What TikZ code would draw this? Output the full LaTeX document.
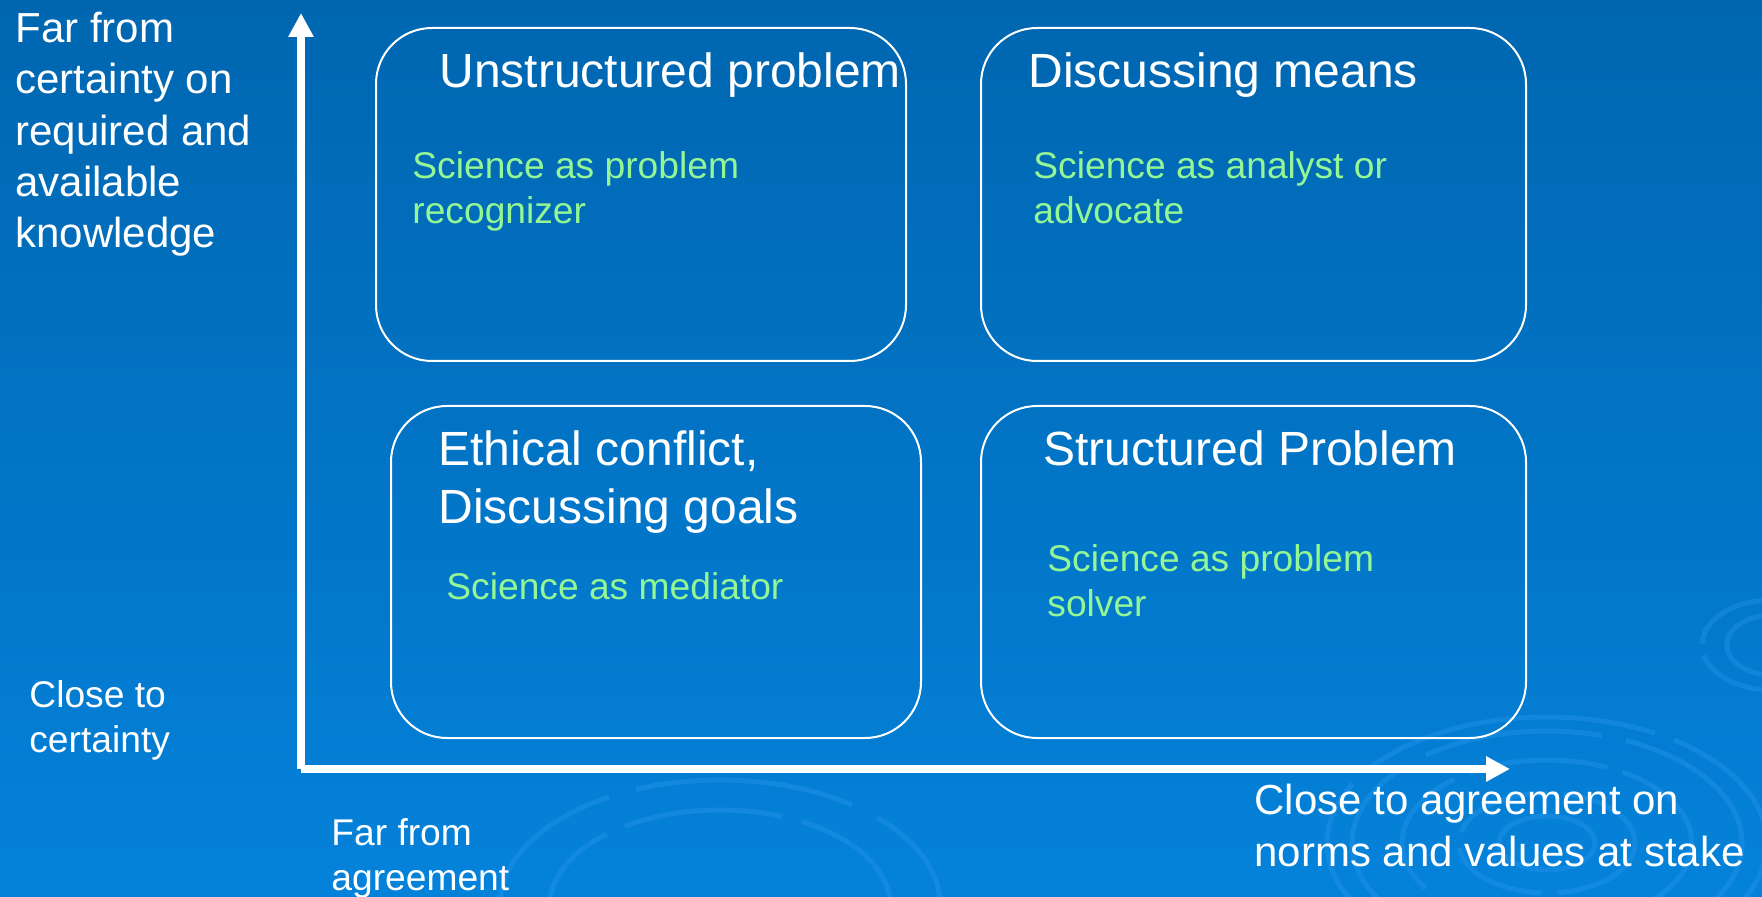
\documentclass[tikz,border=0pt]{standalone}
\usepackage{fontspec}
\setmainfont{Liberation Sans}
\usepackage{tikz}
\usetikzlibrary{arrows.meta,positioning}
\definecolor{bgtop}{RGB}{0,102,176}
\definecolor{bgbottom}{RGB}{4,130,218}
\definecolor{rolegreen}{RGB}{148,246,148}
\definecolor{swirl}{RGB}{40,150,236}
\tikzset{
  quadrant/.style={draw=white, line width=1pt, rounded corners=28pt,
    inner sep=0pt, minimum height=166.5pt},
  quadtitle/.style={text=white, inner sep=0pt, anchor=base west, align=left,
    font=\fontsize{24}{29}\selectfont},
  roletext/.style={text=rolegreen, inner sep=0pt, anchor=base west, align=left,
    font=\fontsize{18.6}{22.5}\selectfont},
  biglabel/.style={text=white, inner sep=0pt, anchor=base west, align=left,
    font=\fontsize{21}{25.7}\selectfont},
  smalllabel/.style={text=white, inner sep=0pt, anchor=base west, align=left,
    font=\fontsize{18.6}{22.5}\selectfont},
  axisarrow/.style={white, line width=4pt, -{Triangle[length=12pt,width=12pt]}},
  swirlring/.style={swirl, line width=2.5pt, opacity=.4},
}
\begin{document}
\begin{tikzpicture}[x=0.5pt,y=-0.5pt]
\useasboundingbox (0,0) rectangle (1762,897);
\shade[top color=bgtop, bottom color=bgbottom] (0,0) rectangle (1762,897);

% faint swirls of the backdrop
\draw[swirlring, dash pattern=on 150pt off 10pt] (1547,843) ellipse (220 and 126);
\draw[swirlring, dash pattern=on 90pt off 12pt] (1547,843) ellipse (195 and 112);
\draw[swirlring, dash pattern=on 70pt off 8pt] (1547,843) ellipse (145 and 83);
\draw[swirlring, dash pattern=on 50pt off 8pt] (1547,843) ellipse (88 and 50);
\draw[swirlring] (1547,843) ellipse (48 and 27);
\draw[swirlring, dash pattern=on 110pt off 14pt] (720,905) ellipse (220 and 125);
\draw[swirlring, dash pattern=on 80pt off 10pt] (720,905) ellipse (170 and 95);
\draw[swirlring, dash pattern=on 40pt off 6pt] (1772,645) ellipse (70 and 45);
\draw[swirlring] (1772,645) ellipse (45 and 30);

% quadrants
\node[quadrant, minimum width=265pt] (unstructured) at (641,194.5) {};
\node[quadrant, minimum width=272.5pt] (means) at (1253.5,194.5) {};
\node[quadrant, minimum width=265pt, minimum height=166pt] (ethical) at (656,572) {};
\node[quadrant, minimum width=272.5pt, minimum height=166pt] (structured) at (1253.5,572) {};

\node[quadtitle] (unstructured-t) at (439,88) {Unstructured problem};
\node[quadtitle] (means-t) at (1028,88) {Discussing means};
\node[quadtitle] (ethical-t) at (438,524) {Ethical conflict,\\Discussing goals};
\node[quadtitle] (structured-t) at (1043,466) {Structured Problem};

\node[roletext] (unstructured-r) at (412,224) {Science as problem\\recognizer};
\node[roletext] (means-r) at (1033,224) {Science as analyst or\\advocate};
\node[roletext] (ethical-r) at (446,600) {Science as mediator};
\node[roletext] (structured-r) at (1047,617) {Science as problem\\solver};

% axes
\coordinate (origin) at (301,769);
\coordinate (ytip) at (301,13);
\coordinate (xtip) at (1510,769);
\draw[axisarrow] (origin) -- (ytip);
\draw[axisarrow] (origin) -- (xtip);

\node[biglabel] (yfar) at (15,248) {Far from\\certainty on\\required and\\available\\knowledge};
\node[smalllabel] (yclose) at (29,753) {Close to\\certainty};
\node[smalllabel] (xfar) at (331,890) {Far from\\agreement};
\node[biglabel] (xclose) at (1254,866) {Close to agreement on\\norms and values at stake};
\end{tikzpicture}
\end{document}
